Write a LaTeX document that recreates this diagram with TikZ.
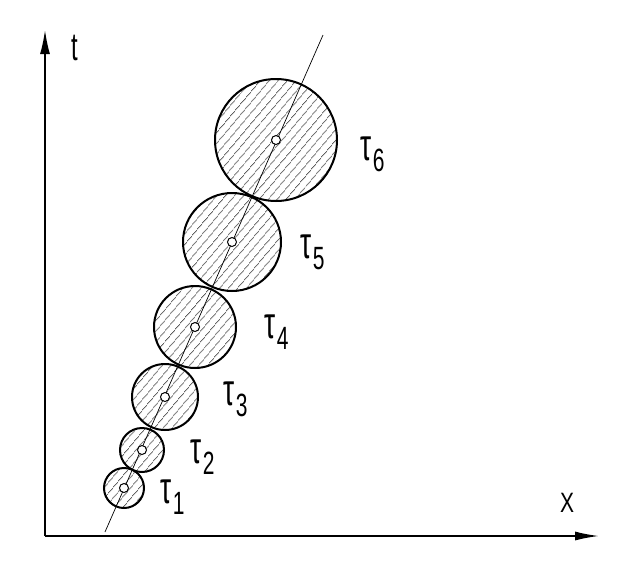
\documentclass[tikz,border=0pt]{standalone}
\usepackage{fontspec}
\setmainfont{Liberation Sans}
\usetikzlibrary{arrows.meta, patterns.meta}
\newcommand{\taulab}[1]{\scalebox{1}[1.6]{τ}\kern1.5pt\raisebox{-11pt}{\scalebox{0.75}[1.15]{#1}}}
\tikzset{
  disc/.style={circle, draw, line width=2pt, inner sep=0pt,
    pattern={Lines[angle=50, distance=6.5pt, line width=0.65pt]}},
  centre/.style={circle, draw, fill=white, line width=1pt, inner sep=0pt, minimum size=9pt},
  lab/.style={anchor=base west, inner sep=0pt, font=\fontsize{28}{30}\selectfont},
}

\begin{document}
\begin{tikzpicture}[x=1pt, y=-1pt]
    \useasboundingbox (0,0) rectangle (635,574);
    % axes
    \coordinate (o) at (45,536);
    \coordinate (xend) at (599,536);
    \coordinate (yend) at (45,30);
    \draw[line width=1.6pt, -{Latex[length=24pt,width=9pt]}] (o) -- (xend);
    \draw[line width=1.6pt, -{Latex[length=24pt,width=10pt]}] (o) -- (yend);
    \node[lab] (tl) at (71,60) {\scalebox{0.85}[1.4]{t}};
    \node[lab] (xl) at (560,512) {\scalebox{0.75}[1]{X}};
    % discs
    \node[disc, minimum size=40pt] (c1) at (124,488) {};
    \node[disc, minimum size=44pt] (c2) at (142,450) {};
    \node[disc, minimum size=66pt] (c3) at (165,397) {};
    \node[disc, minimum size=82pt] (c4) at (195,327) {};
    \node[disc, minimum size=98pt] (c5) at (232,242) {};
    \node[disc, minimum size=122pt] (c6) at (276,140) {};
    % trajectory
    \coordinate (lb) at (105,532);
    \coordinate (lt) at (323,35);
    \draw[line width=0.7pt] (lb) -- (lt);
    \foreach \i in {1,...,6}
        \node[centre] (m\i) at (c\i) {};
    % labels
    \node[lab] (l1) at (160,503) {\taulab{1}};
    \node[lab] (l2) at (190,463) {\taulab{2}};
    \node[lab] (l3) at (223,405) {\taulab{3}};
    \node[lab] (l4) at (264,338) {\taulab{4}};
    \node[lab] (l5) at (300,258) {\taulab{5}};
    \node[lab] (l6) at (360,160) {\taulab{6}};
\end{tikzpicture}
\end{document}
